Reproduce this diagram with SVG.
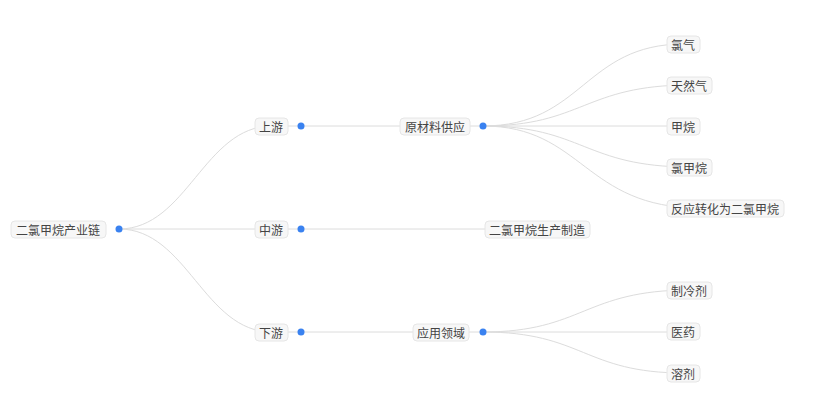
<svg xmlns="http://www.w3.org/2000/svg" width="815" height="417" viewBox="0 0 815 417">
<style>
.e{fill:none;stroke:#dcdcdc;stroke-width:1}
.b{fill:#f7f7f7;stroke:#e6e6e6;stroke-width:1}
.t{font-family:"Noto Sans CJK SC","Noto Sans",sans-serif;font-size:12px;fill:#444;dominant-baseline:central}
.d{fill:#3a82f0}
</style>
<rect width="815" height="417" fill="#fff"/>
<g id="connectors">
<path class="e" d="M119,229 C187,229 204,126 272,126"/>
<path class="e" d="M119,229 L272,229"/>
<path class="e" d="M119,229 C187,229 204,332 272,332"/>
<path class="e" d="M272,126 L301,126 L435,126"/>
<path class="e" d="M272,229 L301,229 L537,229"/>
<path class="e" d="M272,332 L301,332 L441,332"/>
<path class="e" d="M435,126 L483,126"/>
<path class="e" d="M441,332 L483,332"/>
<path class="e" d="M483,126 C583,126 584,44 684,44"/>
<path class="e" d="M483,126 C583,126 584,85 690,85"/>
<path class="e" d="M483,126 L684,126"/>
<path class="e" d="M483,126 C583,126 584,167 690,167"/>
<path class="e" d="M483,126 C583,126 584,208 700,208"/>
<path class="e" d="M483,332 C583,332 584,290 690,290"/>
<path class="e" d="M483,332 L684,332"/>
<path class="e" d="M483,332 C583,332 584,373 684,373"/>
</g>
<g id="root"><rect class="b" x="11" y="221" width="95" height="17" rx="4"/><text class="t" x="16" y="229.5">二氯甲烷产业链</text><circle class="d" cx="119" cy="229" r="3.5"/></g>
<g id="upstream"><rect class="b" x="255" y="118" width="33" height="17" rx="4"/><text class="t" x="259" y="126.5">上游</text><circle class="d" cx="301" cy="126" r="3.5"/></g>
<g id="midstream"><rect class="b" x="255" y="221" width="33" height="17" rx="4"/><text class="t" x="259" y="229.5">中游</text><circle class="d" cx="301" cy="229" r="3.5"/></g>
<g id="downstream"><rect class="b" x="255" y="324" width="33" height="17" rx="4"/><text class="t" x="259" y="332.5">下游</text><circle class="d" cx="301" cy="332" r="3.5"/></g>
<g id="raw"><rect class="b" x="400" y="118" width="70" height="17" rx="4"/><text class="t" x="405" y="126.5">原材料供应</text><circle class="d" cx="483" cy="126" r="3.5"/></g>
<g id="production"><rect class="b" x="485" y="221" width="105" height="17" rx="4"/><text class="t" x="489" y="229.5">二氯甲烷生产制造</text></g>
<g id="application"><rect class="b" x="413" y="324" width="56" height="17" rx="4"/><text class="t" x="417" y="332.5">应用领域</text><circle class="d" cx="483" cy="332" r="3.5"/></g>
<g id="chlorine"><rect class="b" x="667" y="36" width="33" height="17" rx="4"/><text class="t" x="671" y="44.5">氯气</text></g>
<g id="naturalgas"><rect class="b" x="667" y="77" width="45" height="17" rx="4"/><text class="t" x="671" y="85.5">天然气</text></g>
<g id="methane"><rect class="b" x="667" y="118" width="33" height="17" rx="4"/><text class="t" x="671" y="126.5">甲烷</text></g>
<g id="chloromethane"><rect class="b" x="667" y="159" width="45" height="17" rx="4"/><text class="t" x="671" y="167.5">氯甲烷</text></g>
<g id="reaction"><rect class="b" x="667" y="200" width="117" height="17" rx="4"/><text class="t" x="671" y="208.5">反应转化为二氯甲烷</text></g>
<g id="refrigerant"><rect class="b" x="667" y="282" width="45" height="17" rx="4"/><text class="t" x="671" y="290.5">制冷剂</text></g>
<g id="medicine"><rect class="b" x="667" y="323" width="33" height="17" rx="4"/><text class="t" x="671" y="331.5">医药</text></g>
<g id="solvent"><rect class="b" x="667" y="365" width="33" height="17" rx="4"/><text class="t" x="671" y="373.5">溶剂</text></g>
</svg>
